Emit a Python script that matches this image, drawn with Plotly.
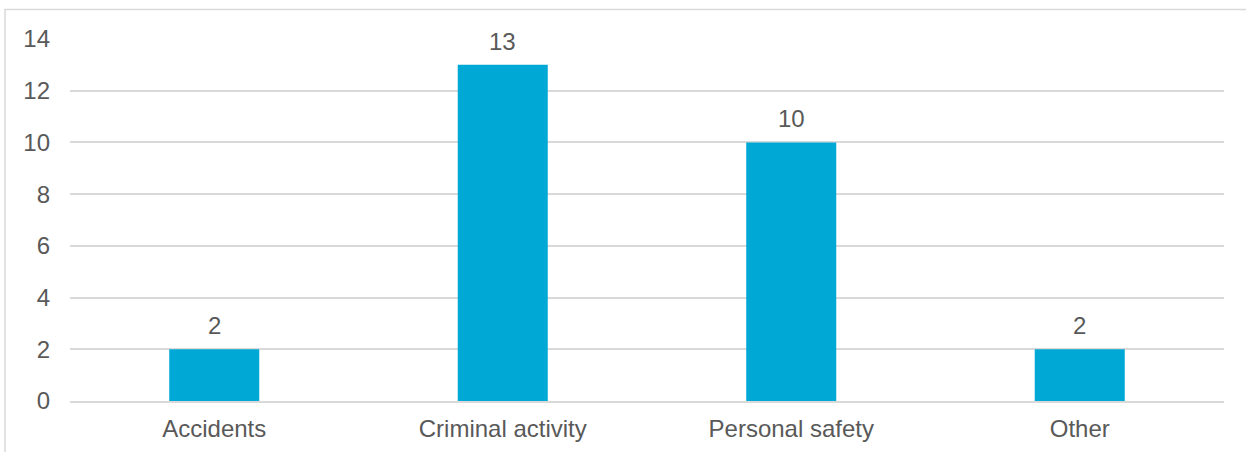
import plotly.graph_objects as go

categories = ["Accidents", "Criminal activity", "Personal safety", "Other"]
values = [2, 13, 10, 2]
y_ticks = [0, 2, 4, 6, 8, 10, 12, 14]

BAR_COLOR = "#00A8D6"
TEXT_COLOR = "#595959"
GRID_COLOR = "#D9D9D9"
FONT = "Liberation Sans, Arial, sans-serif"

fig = go.Figure()
fig.add_trace(go.Bar(x=categories, y=values, marker=dict(color=BAR_COLOR, line=dict(width=0)),
                     hoverinfo="x+y"))

for c, v in zip(categories, values):
    fig.add_annotation(x=c, y=v, text=str(v), showarrow=False, yanchor="bottom",
                       yshift=8, font=dict(family=FONT, size=24, color=TEXT_COLOR))

fig.add_shape(type="rect", xref="paper", yref="paper", x0=-0.0563, x1=1.2, y0=-0.4, y1=1.0815,
              line=dict(color=GRID_COLOR, width=1.5), fillcolor="rgba(0,0,0,0)", layer="below")

fig.update_layout(
    width=1246, height=452,
    margin=dict(l=70, r=22, t=39, b=51),
    paper_bgcolor="white", plot_bgcolor="white",
    bargap=0.688,
    showlegend=False,
    font=dict(family=FONT, size=24, color=TEXT_COLOR),
    xaxis=dict(showgrid=False, showline=True, linecolor=GRID_COLOR, linewidth=1.5, automargin=False,
               ticks="", tickfont=dict(size=24, color=TEXT_COLOR), ticklabelstandoff=5),
    yaxis=dict(range=[0, 14], tickvals=y_ticks, showgrid=True, gridcolor=GRID_COLOR, gridwidth=1.5,
               zeroline=False, showline=False, ticks="", automargin=False,
               tickfont=dict(size=24, color=TEXT_COLOR), ticklabelstandoff=19),
)

fig.write_html("out.html", config={"displayModeBar": False},
               post_script="document.body.style.margin='0';document.body.style.overflow='hidden';")
